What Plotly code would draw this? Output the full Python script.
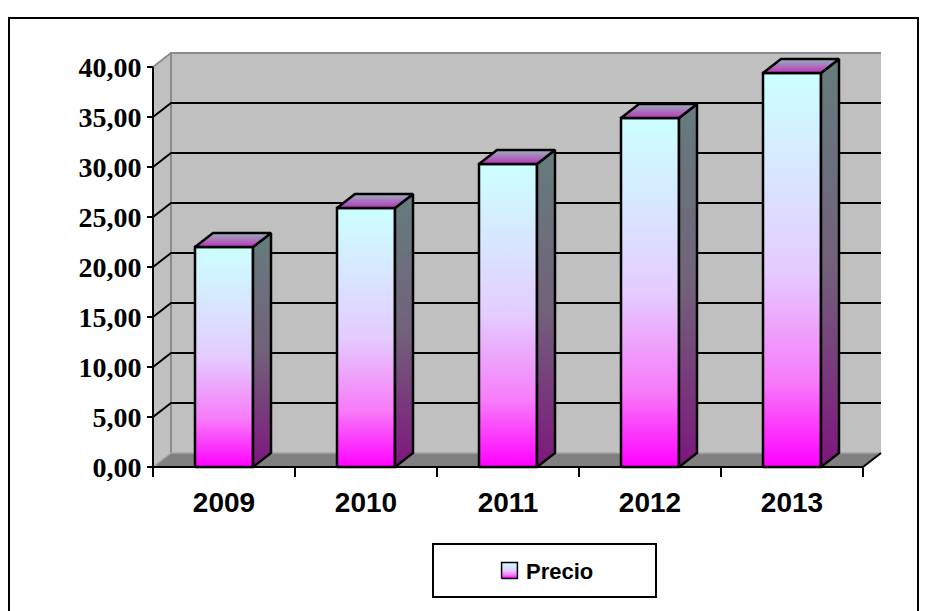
import plotly.graph_objects as go

# ---------------- data ----------------
years = ["2009", "2010", "2011", "2012", "2013"]
precio = [22.0, 25.9, 30.3, 34.9, 39.4]
y_ticks = [0, 5, 10, 15, 20, 25, 30, 35, 40]
series_name = "Precio"

# ---------------- geometry ----------------
W = 929
H = 611
X0PX = 153          # pixel of x = -0.5 (front y-axis)
Y0PX = 467          # pixel of value 0 (front floor edge)
PX_PER_CAT = 142.0
PX_PER_VAL = 10.0
DX = 18 / PX_PER_CAT    # depth offset in category units
DY = 14 / PX_PER_VAL    # depth offset in value units
YMAX = 40
BW = 58 / PX_PER_CAT    # bar width in category units
N = len(years)

XR = [-0.62, N - 0.5 + DX + 0.12]
YR = [-0.4, YMAX + DY + 0.4]


def xpix(x):
    return X0PX + (x + 0.5) * PX_PER_CAT


def ypix(v):
    return Y0PX - v * PX_PER_VAL


def pxp(x):
    return x / W


def pyp(y):
    return 1 - y / H


dom_x = [pxp(xpix(XR[0])), pxp(xpix(XR[1]))]
dom_y = [pyp(ypix(YR[0])), pyp(ypix(YR[1]))]

fig = go.Figure()


def poly(xs, ys, fill=None, grad=None, lc="rgba(0,0,0,0)", lw=0, xa="x", ya="y"):
    t = go.Scatter(
        x=list(xs) + [xs[0]], y=list(ys) + [ys[0]], mode="lines", fill="toself",
        line=dict(color=lc, width=lw), hoverinfo="skip", showlegend=False,
        xaxis=xa, yaxis=ya,
    )
    if grad is not None:
        t.fillgradient = grad
    else:
        t.fillcolor = fill
    fig.add_trace(t)


def lines(xs, ys, color, width):
    fig.add_trace(go.Scatter(x=xs, y=ys, mode="lines", line=dict(color=color, width=width),
                             hoverinfo="skip", showlegend=False))


L, R = -0.5, N - 0.5
# walls and floor
poly([L, L, L + DX, L + DX], [0, YMAX, YMAX + DY, DY], fill="#C0C0C0")
poly([L + DX, R + DX, R + DX, L + DX], [DY, DY, YMAX + DY, YMAX + DY], fill="#C0C0C0")
poly([L, R, R + DX, L + DX], [0, 0, DY, DY], fill="#808080")

# wall edges
lines([L + DX, L + DX, R + DX], [DY, YMAX + DY, YMAX + DY], "#8C8C8C", 2)
lines([L, L + DX], [YMAX, YMAX + DY], "#8C8C8C", 2)
lines([L, L + DX, R + DX], [0, DY, DY], "#A6A6A6", 1.5)

# gridlines on side + back wall
gx, gy = [], []
for v in y_ticks[1:-1]:
    gx += [L, L + DX, R + DX, None]
    gy += [v, v + DY, v + DY, None]
lines(gx, gy, "black", 2)

# front axis lines
lines([L, L, R, R + DX], [YMAX, 0, 0, DY], "black", 2)

# bars
front_cs = [[0, "#FF00FF"], [0.22, "#F77CF9"], [0.5, "#E4CCFF"], [0.78, "#D6EAFF"], [1, "#CCFFFF"]]
side_cs = [[0, "#7E167E"], [0.5, "#72627A"], [1, "#657D7D"]]
top_cs = [[0, "#BB33BB"], [1, "#99B3BB"]]
for i, v in enumerate(precio):
    x0, x1 = i - BW / 2, i + BW / 2
    poly([x0, x1, x1, x0], [0, 0, v, v],
         grad=dict(type="vertical", colorscale=front_cs, start=0, stop=v), lc="black", lw=2.5)
    poly([x1, x1 + DX, x1 + DX, x1], [0, DY, v + DY, v],
         grad=dict(type="vertical", colorscale=side_cs, start=0, stop=v + DY), lc="black", lw=2.5)
    poly([x0, x1, x1 + DX, x0 + DX], [v, v, v + DY, v + DY],
         grad=dict(type="vertical", colorscale=top_cs, start=v, stop=v + DY), lc="black", lw=2.5)

# legend marker (gradient square) on its own small axes
poly([0, 1, 1, 0], [0, 0, 1, 1],
     grad=dict(type="vertical", colorscale=front_cs, start=0, stop=1), lc="black", lw=1.5,
     xa="x2", ya="y2")

fig.update_layout(
    template="none",
    width=W, height=H,
    margin=dict(l=0, r=0, t=0, b=0, autoexpand=False),
    paper_bgcolor="white", plot_bgcolor="rgba(0,0,0,0)",
    separators=",.",
    showlegend=False,
    xaxis=dict(
        domain=dom_x, range=XR, anchor="free", position=pyp(Y0PX), automargin=False,
        tickmode="array", tickvals=list(range(N)), ticktext=years,
        ticks="outside", ticklen=10, tickcolor="rgba(0,0,0,0)",
        showgrid=False, zeroline=False, showline=False,
        tickfont=dict(family="Liberation Sans", size=28, color="black", weight="bold"),
        minor=dict(tickmode="array", tickvals=[L + k for k in range(N + 1)], ticks="outside",
                   ticklen=9, tickwidth=2, tickcolor="black", showgrid=False),
    ),
    yaxis=dict(
        domain=dom_y, range=YR, anchor="free", position=pxp(X0PX), automargin=False,
        tickmode="array", tickvals=y_ticks, tickformat=".2f",
        ticks="outside", ticklen=6, tickwidth=2, tickcolor="black",
        showgrid=False, zeroline=False, showline=False,
        tickfont=dict(family="Liberation Serif", size=28, color="black", weight="bold"),
    ),
    xaxis2=dict(domain=[pxp(500), pxp(519)], range=[-0.1, 1.1], visible=False, anchor="y2",
                automargin=False),
    yaxis2=dict(domain=[pyp(580), pyp(561)], range=[-0.1, 1.1], visible=False, anchor="x2",
                automargin=False),
    shapes=[
        dict(type="rect", xref="paper", yref="paper", x0=pxp(9), x1=pxp(918), y0=pyp(640), y1=pyp(18),
             line=dict(color="black", width=2), fillcolor="rgba(0,0,0,0)"),
        dict(type="rect", xref="paper", yref="paper", x0=pxp(433), x1=pxp(656), y0=pyp(597), y1=pyp(544),
             line=dict(color="black", width=2), fillcolor="white", layer="below"),
    ],
    annotations=[
        dict(text=series_name, xref="paper", yref="paper", x=pxp(524), y=pyp(571),
             xanchor="left", yanchor="middle", showarrow=False,
             font=dict(family="Liberation Sans", size=22, color="black", weight="bold")),
    ],
)

fig.write_html("out.html")
